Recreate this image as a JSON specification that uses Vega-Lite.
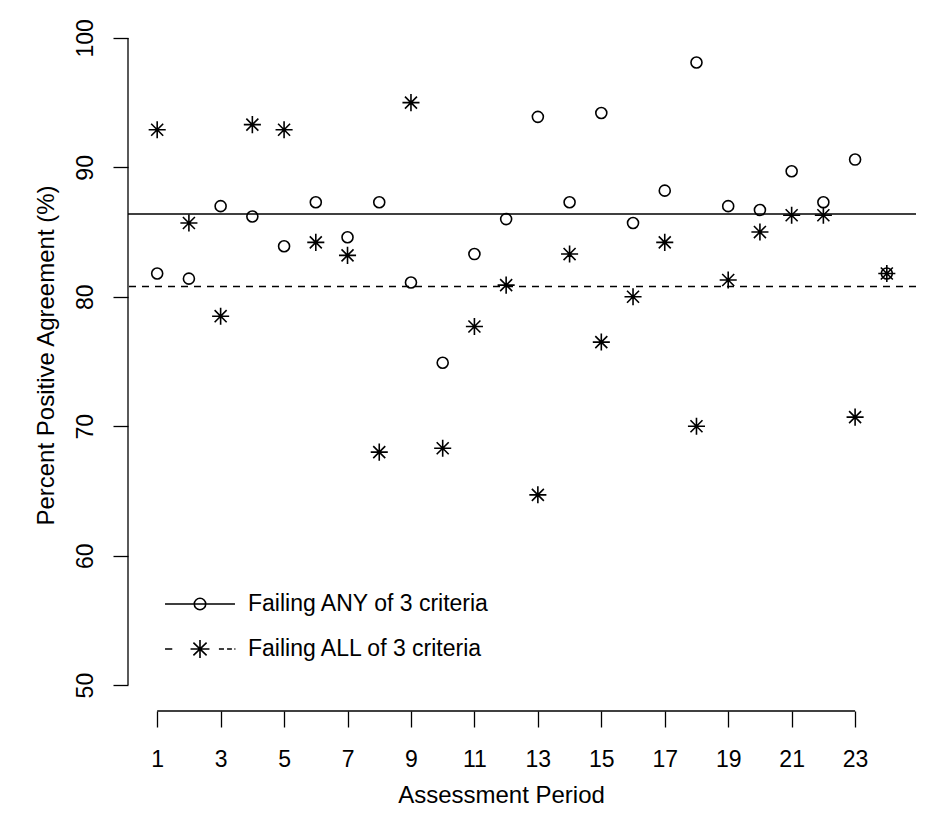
{
  "$schema": "https://vega.github.io/schema/vega-lite/v6.json",
  "width": 788,
  "height": 699,
  "autosize": {"type": "none"},
  "padding": {"left": 128, "top": 12, "right": 20, "bottom": 111},
  "background": "white",
  "config": {
    "view": {"stroke": null},
    "font": "Liberation Sans",
    "axis": {
      "domain": false,
      "grid": false,
      "tickColor": "black",
      "tickWidth": 1.3,
      "labelColor": "black",
      "labelFont": "Liberation Sans",
      "labelFontSize": 23,
      "titleColor": "black",
      "titleFont": "Liberation Sans",
      "titleFontSize": 24,
      "titleFontWeight": "normal"
    }
  },
  "datasets": {
    "points": [
      {"period": 1, "criterion": "Failing ANY of 3 criteria", "ppa": 81.8},
      {"period": 2, "criterion": "Failing ANY of 3 criteria", "ppa": 81.4},
      {"period": 3, "criterion": "Failing ANY of 3 criteria", "ppa": 87.0},
      {"period": 4, "criterion": "Failing ANY of 3 criteria", "ppa": 86.2},
      {"period": 5, "criterion": "Failing ANY of 3 criteria", "ppa": 83.9},
      {"period": 6, "criterion": "Failing ANY of 3 criteria", "ppa": 87.3},
      {"period": 7, "criterion": "Failing ANY of 3 criteria", "ppa": 84.6},
      {"period": 8, "criterion": "Failing ANY of 3 criteria", "ppa": 87.3},
      {"period": 9, "criterion": "Failing ANY of 3 criteria", "ppa": 81.1},
      {"period": 10, "criterion": "Failing ANY of 3 criteria", "ppa": 74.9},
      {"period": 11, "criterion": "Failing ANY of 3 criteria", "ppa": 83.3},
      {"period": 12, "criterion": "Failing ANY of 3 criteria", "ppa": 86.0},
      {"period": 13, "criterion": "Failing ANY of 3 criteria", "ppa": 93.9},
      {"period": 14, "criterion": "Failing ANY of 3 criteria", "ppa": 87.3},
      {"period": 15, "criterion": "Failing ANY of 3 criteria", "ppa": 94.2},
      {"period": 16, "criterion": "Failing ANY of 3 criteria", "ppa": 85.7},
      {"period": 17, "criterion": "Failing ANY of 3 criteria", "ppa": 88.2},
      {"period": 18, "criterion": "Failing ANY of 3 criteria", "ppa": 98.1},
      {"period": 19, "criterion": "Failing ANY of 3 criteria", "ppa": 87.0},
      {"period": 20, "criterion": "Failing ANY of 3 criteria", "ppa": 86.7},
      {"period": 21, "criterion": "Failing ANY of 3 criteria", "ppa": 89.7},
      {"period": 22, "criterion": "Failing ANY of 3 criteria", "ppa": 87.3},
      {"period": 23, "criterion": "Failing ANY of 3 criteria", "ppa": 90.6},
      {"period": 24, "criterion": "Failing ANY of 3 criteria", "ppa": 81.8},
      {"period": 1, "criterion": "Failing ALL of 3 criteria", "ppa": 92.9},
      {"period": 2, "criterion": "Failing ALL of 3 criteria", "ppa": 85.7},
      {"period": 3, "criterion": "Failing ALL of 3 criteria", "ppa": 78.5},
      {"period": 4, "criterion": "Failing ALL of 3 criteria", "ppa": 93.3},
      {"period": 5, "criterion": "Failing ALL of 3 criteria", "ppa": 92.9},
      {"period": 6, "criterion": "Failing ALL of 3 criteria", "ppa": 84.2},
      {"period": 7, "criterion": "Failing ALL of 3 criteria", "ppa": 83.2},
      {"period": 8, "criterion": "Failing ALL of 3 criteria", "ppa": 68.0},
      {"period": 9, "criterion": "Failing ALL of 3 criteria", "ppa": 95.0},
      {"period": 10, "criterion": "Failing ALL of 3 criteria", "ppa": 68.3},
      {"period": 11, "criterion": "Failing ALL of 3 criteria", "ppa": 77.7},
      {"period": 12, "criterion": "Failing ALL of 3 criteria", "ppa": 80.9},
      {"period": 13, "criterion": "Failing ALL of 3 criteria", "ppa": 64.7},
      {"period": 14, "criterion": "Failing ALL of 3 criteria", "ppa": 83.3},
      {"period": 15, "criterion": "Failing ALL of 3 criteria", "ppa": 76.5},
      {"period": 16, "criterion": "Failing ALL of 3 criteria", "ppa": 80.0},
      {"period": 17, "criterion": "Failing ALL of 3 criteria", "ppa": 84.2},
      {"period": 18, "criterion": "Failing ALL of 3 criteria", "ppa": 70.0},
      {"period": 19, "criterion": "Failing ALL of 3 criteria", "ppa": 81.3},
      {"period": 20, "criterion": "Failing ALL of 3 criteria", "ppa": 85.0},
      {"period": 21, "criterion": "Failing ALL of 3 criteria", "ppa": 86.3},
      {"period": 22, "criterion": "Failing ALL of 3 criteria", "ppa": 86.3},
      {"period": 23, "criterion": "Failing ALL of 3 criteria", "ppa": 70.7},
      {"period": 24, "criterion": "Failing ALL of 3 criteria", "ppa": 81.8}
    ],
    "reference": [
      {"criterion": "Failing ANY of 3 criteria", "level": 86.4},
      {"criterion": "Failing ALL of 3 criteria", "level": 80.8}
    ]
  },
  "resolve": {"scale": {"shape": "independent"}, "legend": {"shape": "independent"}},
  "layer": [
    {
      "data": {"name": "reference"},
      "transform": [{"filter": "datum.criterion === 'Failing ANY of 3 criteria'"}],
      "mark": {"type": "rule", "color": "black", "strokeWidth": 1.5},
      "encoding": {
        "y": {"field": "level", "type": "quantitative", "scale": {"domain": [48, 102], "nice": false, "zero": false}}
      }
    },
    {
      "data": {"name": "reference"},
      "transform": [{"filter": "datum.criterion === 'Failing ALL of 3 criteria'"}],
      "mark": {"type": "rule", "color": "black", "strokeWidth": 1.5, "strokeDash": [7, 6]},
      "encoding": {
        "y": {"field": "level", "type": "quantitative"}
      }
    },
    {
      "data": {"values": [{}]},
      "mark": {"type": "rule", "color": "black", "strokeWidth": 1.3},
      "encoding": {
        "x": {"datum": 1, "type": "quantitative"},
        "x2": {"datum": 23},
        "y": {"datum": 48, "type": "quantitative"}
      }
    },
    {
      "data": {"values": [{}]},
      "mark": {"type": "rule", "color": "black", "strokeWidth": 1.3},
      "encoding": {
        "x": {"datum": 0.08, "type": "quantitative"},
        "y": {"datum": 50, "type": "quantitative"},
        "y2": {"datum": 100}
      }
    },
    {
      "data": {"name": "reference"},
      "mark": {"type": "point", "filled": false, "color": "black", "opacity": 0, "strokeWidth": 1.5},
      "encoding": {
        "shape": {
          "field": "criterion", "type": "nominal",
          "scale": {
            "domain": ["Failing ANY of 3 criteria", "Failing ALL of 3 criteria"],
            "range": [
              "M-1.59,0H1.59M0.26,0A0.26,0.26 0 1 1 -0.26,0A0.26,0.26 0 1 1 0.26,0Z",
              "M-1.59,0H-1.26M0.86,0H1.09M1.23,0H1.45M1.56,0H1.61M-0.43,0H0.43M0,-0.41V0.41M-0.3,-0.29L0.3,0.29M-0.3,0.29L0.3,-0.29"
            ]
          },
          "legend": {
            "orient": "none",
            "legendX": 49,
            "legendY": 569,
            "title": null,
            "padding": 0,
            "rowPadding": 10,
            "symbolSize": 1936,
            "symbolStrokeWidth": 1.6,
            "symbolStrokeColor": "black",
            "symbolFillColor": "transparent",
            "symbolOpacity": 1,
            "labelFont": "Liberation Sans",
            "labelFontSize": 23,
            "labelColor": "black",
            "labelOffset": 25,
            "labelLimit": 400
          }
        }
      }
    },
    {
      "data": {"name": "points"},
      "mark": {"type": "point", "filled": false, "color": "black", "strokeWidth": 1.6, "opacity": 1, "size": 160},
      "encoding": {
        "x": {
          "field": "period", "type": "quantitative",
          "scale": {"domain": [0.08, 24.92], "nice": false, "zero": false},
          "axis": {
            "values": [1, 3, 5, 7, 9, 11, 13, 15, 17, 19, 21, 23],
            "tickSize": 16,
            "labelBaseline": "alphabetic",
            "labelPadding": 39,
            "labelFlush": false,
            "labelOverlap": false,
            "title": "Assessment Period",
            "titleX": 373,
            "titleY": 91,
            "titleBaseline": "alphabetic"
          }
        },
        "y": {
          "field": "ppa", "type": "quantitative",
          "scale": {"domain": [48, 102], "nice": false, "zero": false},
          "axis": {
            "values": [50, 60, 70, 80, 90, 100],
            "tickSize": 15,
            "labelAngle": 270,
            "labelAlign": "center",
            "labelBaseline": "alphabetic",
            "labelPadding": 21,
            "labelFlush": false,
            "labelOverlap": false,
            "title": "Percent Positive Agreement (%)",
            "titleAngle": 270,
            "titleX": -75,
            "titleY": 343,
            "titleBaseline": "alphabetic",
            "titleAlign": "center"
          }
        },
        "shape": {
          "field": "criterion", "type": "nominal",
          "scale": {
            "domain": ["Failing ANY of 3 criteria", "Failing ALL of 3 criteria"],
            "range": [
              "M0.87,0A0.87,0.87 0 1 1 -0.87,0A0.87,0.87 0 1 1 0.87,0Z",
              "M-1.35,0H1.35M0,-1.35V1.35M-0.95,-0.95L0.95,0.95M-0.95,0.95L0.95,-0.95"
            ]
          },
          "legend": null
        }
      }
    }
  ]
}
